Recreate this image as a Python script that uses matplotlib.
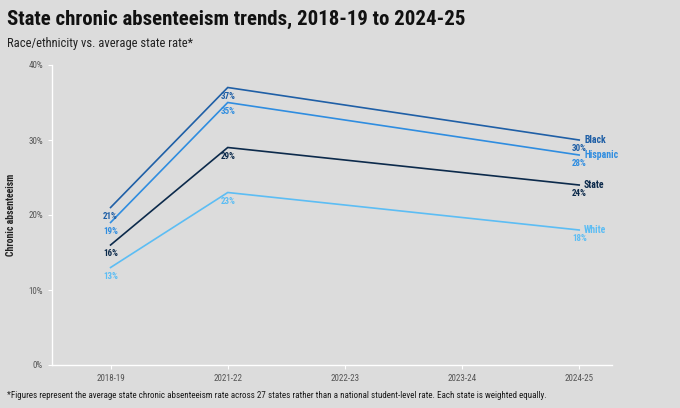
import matplotlib.pyplot as plt
from matplotlib import font_manager

years = ["2018-19", "2021-22", "2022-23", "2023-24", "2024-25"]
year_pos = [0, 1, 4]  # years that have data
black = [21, 37, 30]
hispanic = [19, 35, 28]
state = [16, 29, 24]
white = [13, 23, 18]

series = [
    ("Black", black, "#1f5fa6"),
    ("Hispanic", hispanic, "#2f8de0"),
    ("State", state, "#0c2a4b"),
    ("White", white, "#5cbdf4"),
]

names = {f.name for f in font_manager.fontManager.ttflist}
fam = [f for f in ["Roboto Condensed", "Liberation Sans Narrow", "Roboto"] if f in names]
plt.rcParams["font.family"] = fam + ["DejaVu Sans"]

bg = "#dcdcdc"
fig = plt.figure(figsize=(6.8, 4.08), dpi=100, facecolor=bg)
ax = fig.add_axes([52 / 680, 1 - 365 / 408, 560 / 680, 300 / 408], facecolor=bg)

for name, vals, col in series:
    ax.plot(year_pos, vals, color=col, lw=1.2, solid_joinstyle="miter")
    for x, v in zip(year_pos, vals):
        ax.annotate(f"{v}%", (x, v), xytext=(0, -6.3), textcoords="offset points",
                    ha="center", va="center", fontsize=6.5, color=col, fontweight="bold")
    ax.annotate(name, (year_pos[-1], vals[-1]), xytext=(3.5, 0), textcoords="offset points",
                ha="left", va="center", fontsize=7, color=col, fontweight="bold")

ax.set_xlim(-0.5, 4.28)
ax.set_ylim(0, 40)
ax.set_xticks(range(len(years)))
ax.set_xticklabels(years)
ax.set_yticks([0, 10, 20, 30, 40])
ax.set_yticklabels([f"{t}%" for t in [0, 10, 20, 30, 40]])
for s in ["top", "right"]:
    ax.spines[s].set_visible(False)
for s in ["left", "bottom"]:
    ax.spines[s].set_color("white")
    ax.spines[s].set_linewidth(1)
ax.tick_params(axis="y", colors="white", labelcolor="#555555", labelsize=6.5, length=3, width=0.8)
ax.tick_params(axis="x", colors="white", labelcolor="#555555", labelsize=6.5, length=3, width=0.8)
ax.set_ylabel("Chronic absenteeism", fontsize=7, fontweight="bold", color="#222222", labelpad=9)

fig.text(7 / 680, 1 - 19 / 408, "State chronic absenteeism trends, 2018-19 to 2024-25",
         fontsize=15, fontweight="bold", color="#111111", va="center")
fig.text(7 / 680, 1 - 44 / 408, "Race/ethnicity vs. average state rate*",
         fontsize=9, color="#222222", va="center")
fig.text(7 / 680, 1 - 395 / 408,
         "*Figures represent the average state chronic absenteeism rate across 27 states rather "
         "than a national student-level rate. Each state is weighted equally.",
         fontsize=6.5, color="#1a1a1a", va="center")

fig.savefig("out.png", dpi=100, facecolor=bg)
